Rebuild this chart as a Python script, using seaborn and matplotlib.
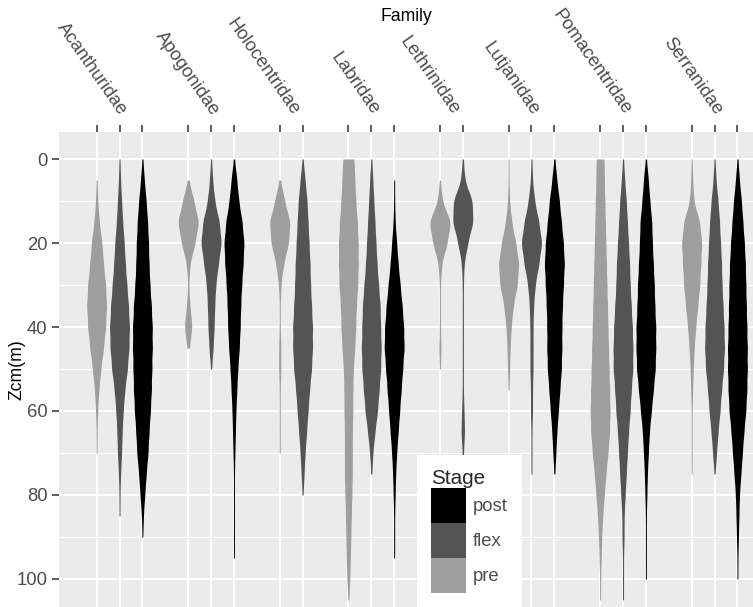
import numpy as np
import pandas as pd
import matplotlib
matplotlib.use("Agg")
import matplotlib.pyplot as plt
import matplotlib.transforms as mtransforms
import seaborn as sns
from matplotlib.patches import Patch

# ========================
# DATA
# ========================
FAMILIES = ["Acanthuridae", "Apogonidae", "Holocentridae", "Labridae",
            "Lethrinidae", "Lutjanidae", "Pomacentridae", "Serranidae"]
STAGES = ["pre", "flex", "post"]
STAGE_COLORS = {"post": "#000000", "flex": "#545454", "pre": "#9E9E9E"}

# depth bins (m); counts per bin give the shape of each violin
DEPTHS = [0, 5, 10, 15, 20, 25, 30, 35, 40, 45, 50, 55, 60, 65, 70, 75, 80, 85, 90, 95, 100, 105]

acanthuridae = {
    "pre":  [0, 1, 2, 5, 10, 13, 17, 19, 17, 13, 8, 4, 2, 1, 1, 0, 0, 0, 0, 0, 0, 0],
    "flex": [1, 2, 4, 6, 9, 11, 14, 17, 19, 18, 15, 10, 7, 5, 4, 2, 1, 1, 0, 0, 0, 0],
    "post": [1, 4, 8, 11, 13, 14, 16, 19, 21, 21, 20, 19, 17, 14, 12, 8, 5, 2, 1, 0, 0, 0],
}
apogonidae = {
    "pre":  [0, 1, 10, 19, 12, 3, 1, 3, 7, 2, 0, 0, 0, 0, 0, 0, 0, 0, 0, 0, 0, 0],
    "flex": [1, 3, 7, 16, 20, 14, 9, 7, 6, 4, 1, 0, 0, 0, 0, 0, 0, 0, 0, 0, 0, 0],
    "post": [1, 6, 10, 17, 21, 19, 16, 14, 13, 11, 8, 6, 4, 3, 2, 1, 1, 1, 1, 1, 0, 0],
}
holocentridae = {
    "pre":  [0, 1, 9, 19, 16, 7, 2, 1, 1, 2, 2, 1, 1, 1, 1, 0, 0, 0, 0, 0, 0, 0],
    "flex": [1, 5, 9, 11, 13, 15, 16, 18, 20, 20, 18, 14, 11, 8, 5, 3, 1, 0, 0, 0, 0, 0],
}
labridae = {
    "pre":  [12, 13, 15, 18, 20, 20, 19, 16, 15, 13, 10, 9, 9, 8, 8, 8, 7, 6, 5, 4, 3, 1],
    "flex": [1, 3, 5, 7, 9, 11, 14, 17, 18, 19, 18, 15, 12, 7, 3, 1, 0, 0, 0, 0, 0, 0],
    "post": [0, 1, 1, 2, 5, 8, 12, 16, 19, 20, 17, 14, 11, 8, 5, 3, 2, 1, 1, 1, 0, 0],
}
lethrinidae = {
    "pre":  [0, 1, 4, 20, 13, 3, 1, 1, 1, 2, 1, 0, 0, 0, 0, 0, 0, 0, 0, 0, 0, 0],
    "flex": [1, 3, 16, 17, 8, 2, 1, 1, 1, 1, 1, 1, 2, 3, 1, 1, 0, 0, 0, 0, 0, 0],
}
lutjanidae = {
    "pre":  [1, 1, 2, 6, 14, 20, 17, 9, 5, 3, 2, 1, 0, 0, 0, 0, 0, 0, 0, 0, 0, 0],
    "flex": [1, 2, 6, 14, 20, 14, 7, 4, 3, 3, 3, 2, 2, 1, 1, 1, 0, 0, 0, 0, 0, 0],
    "post": [1, 5, 10, 14, 18, 20, 18, 16, 15, 15, 14, 11, 8, 5, 3, 1, 0, 0, 0, 0, 0, 0],
}
pomacentridae = {
    "pre":  [8, 8, 9, 10, 11, 12, 13, 14, 15, 16, 17, 18, 19, 18, 15, 11, 8, 5, 3, 2, 1, 1],
    "flex": [1, 3, 6, 8, 10, 12, 13, 15, 17, 18, 18, 15, 13, 10, 8, 6, 4, 2, 2, 1, 1, 1],
    "post": [1, 5, 8, 12, 13, 15, 17, 18, 20, 20, 19, 15, 11, 7, 5, 3, 2, 1, 1, 1, 1, 0],
}
serranidae = {
    "pre":  [1, 2, 4, 16, 20, 18, 16, 12, 8, 5, 3, 2, 1, 1, 1, 1, 0, 0, 0, 0, 0, 0],
    "flex": [1, 3, 7, 10, 12, 14, 15, 17, 19, 20, 18, 14, 11, 7, 4, 1, 0, 0, 0, 0, 0, 0],
    "post": [1, 4, 8, 11, 14, 16, 17, 18, 19, 20, 20, 19, 17, 13, 10, 7, 4, 3, 2, 1, 1, 0],
}
COUNTS = [acanthuridae, apogonidae, holocentridae, labridae,
          lethrinidae, lutjanidae, pomacentridae, serranidae]

# ========================
# BUILD LONG TABLE
# ========================
rows = []
slot = 0
label_pos = []
slot_pos = []
for fam, counts in zip(FAMILIES, COUNTS):
    first = slot
    for stage in STAGES:
        if stage not in counts:
            continue
        for d in np.repeat(DEPTHS, counts[stage]):
            rows.append({"Family": fam, "Stage": stage, "slot": slot, "Zcm": d})
        slot_pos.append(slot)
        slot += 1
    label_pos.append((first + slot - 1) / 2)
    slot += 1  # gap between families
df = pd.DataFrame(rows)

# ========================
# PLOT
# ========================
sns.set_theme(style="darkgrid", rc={
    "axes.facecolor": "#EBEBEB",
    "grid.color": "white",
    "axes.axisbelow": True,
})
plt.rcParams["font.family"] = ["Liberation Sans", "DejaVu Sans"]

fig = plt.figure(figsize=(7.53, 6.07), dpi=100)
ax = fig.add_axes([0.0788, 0.0, 0.9212, 0.783])

sns.violinplot(
    data=df, x="slot", y="Zcm", hue="Stage", hue_order=STAGES,
    palette=STAGE_COLORS, native_scale=True, dodge=False, orient="x",
    density_norm="width", width=0.87, cut=0, inner=None, linewidth=0,
    saturation=1, bw_method=lambda k: 2.5 / k.dataset.std(ddof=1),
    legend=False, ax=ax,
)

ax.set_xlim(-1.63, 28.68)
ax.set_ylim(106.67, -6.5)
for s in ax.spines.values():
    s.set_visible(False)

# x axis on top: one tick per violin, one label per family
ax.xaxis.remove_overlapping_locs = False
ax.xaxis.tick_top()
ax.set_xticks(slot_pos)
ax.set_xticklabels([""] * len(slot_pos))
ax.set_xticks(label_pos, minor=True)
ax.set_xticklabels(FAMILIES, minor=True)
ax.tick_params(axis="x", which="major", top=True, bottom=False, length=4.8, width=1.1,
               color="#333333", labeltop=False, labelbottom=False)
ax.tick_params(axis="x", which="minor", top=True, bottom=False, length=0, pad=13.2,
               labeltop=True, labelbottom=False, labelsize=13.3, labelcolor="#4D4D4D")
shift = mtransforms.ScaledTranslation(0.04, 0, fig.dpi_scale_trans)
for lab in ax.get_xticklabels(minor=True):
    lab.set_rotation(-55)
    lab.set_rotation_mode("anchor")
    lab.set_ha("right")
    lab.set_va("center")
    lab.set_transform(lab.get_transform() + shift)

ax.set_yticks([0, 20, 40, 60, 80, 100])
ax.set_yticks([10, 30, 50, 70, 90], minor=True)
ax.tick_params(axis="y", which="major", left=True, length=4.8, width=1.1, color="#333333",
               pad=3.6, labelsize=13.3, labelcolor="#4D4D4D")
ax.tick_params(axis="y", which="minor", left=False, length=0)

ax.grid(False)
ax.grid(True, axis="x", which="major", color="white", linewidth=1.4)
ax.grid(True, axis="y", which="major", color="white", linewidth=1.4)
ax.grid(True, axis="y", which="minor", color="white", linewidth=0.8)

ax.set_xlabel("Family", fontsize=12.7, color="black")
ax.xaxis.set_label_position("top")
ax.xaxis.set_label_coords(0.5, 1.2434)
ax.xaxis.label.set_va("center")
ax.set_ylabel("Zcm(m)", fontsize=12.7, color="black")
ax.yaxis.set_label_coords(-0.061, 0.5)
ax.yaxis.label.set_va("center")

handles = [Patch(facecolor=STAGE_COLORS[s], edgecolor="none", label=s) for s in ["post", "flex", "pre"]]
leg = ax.legend(handles=handles, title="Stage", loc="lower left", bbox_to_anchor=(0.5152, 0.0),
                borderaxespad=0, frameon=True, fancybox=False, framealpha=1,
                facecolor="white", edgecolor="none", fontsize=13.3, title_fontsize=14.9,
                handlelength=1.9, handleheight=2.54, labelspacing=0, handletextpad=0.4,
                borderpad=0.75, alignment="left")
for t in leg.get_texts():
    t.set_color("#4D4D4D")
leg.set_zorder(10)

fig.savefig("out.png", dpi=100)
